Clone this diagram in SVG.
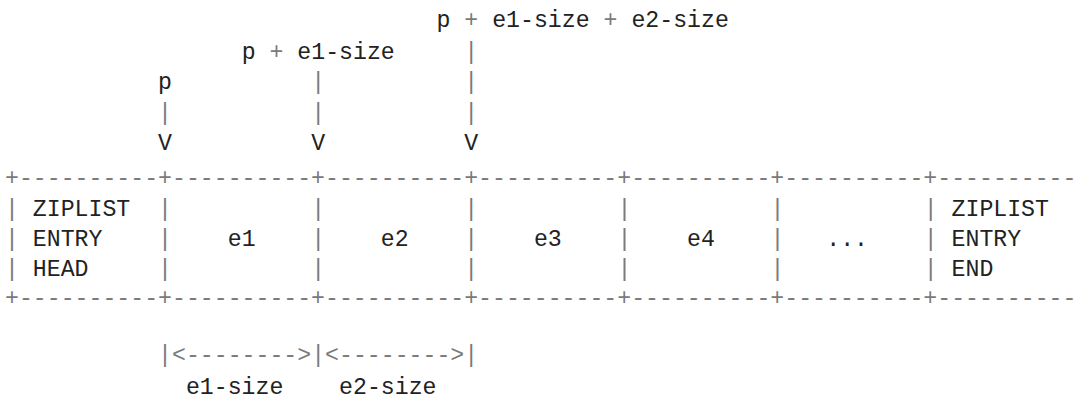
<svg xmlns="http://www.w3.org/2000/svg" width="1085" height="410" viewBox="0 0 1085 410">
<style>
text{font-family:"Liberation Mono","Courier New",monospace;font-size:23.2px;fill:#222;white-space:pre}
.g{fill:#7a7a7a}
</style>
<defs>
<g id="pipes">
<text class="g" x="5">|</text>
<text class="g" x="158.12">|</text>
<text class="g" x="311.24">|</text>
<text class="g" x="464.36">|</text>
<text class="g" x="617.48">|</text>
<text class="g" x="770.6">|</text>
<text class="g" x="923.72">|</text>
</g>
</defs>
<rect width="1085" height="410" fill="#fff"/>
<g id="labels">
<text xml:space="preserve" y="27"><tspan x="436.52">p</tspan><tspan class="g" x="464.36">+</tspan><tspan x="492.2">e1-size</tspan><tspan class="g" x="603.56">+</tspan><tspan x="631.4">e2-size</tspan></text>
<text xml:space="preserve" y="58.6"><tspan x="241.64">p</tspan><tspan class="g" x="269.48">+</tspan><tspan x="297.32">e1-size</tspan></text>
<text y="89.2" x="158.12">p</text>
</g>
<g id="connectors">
<text class="g" y="58.6" x="464.36">|</text>
<text class="g" y="89.2" x="311.24">|</text>
<text class="g" y="89.2" x="464.36">|</text>
<text class="g" y="119.8" x="158.12">|</text>
<text class="g" y="119.8" x="311.24">|</text>
<text class="g" y="119.8" x="464.36">|</text>
<text y="150.4" x="158.12">V</text>
<text y="150.4" x="311.24">V</text>
<text y="150.4" x="464.36">V</text>
<text class="g" xml:space="preserve" y="362" x="158.12">|&lt;--------&gt;|&lt;--------&gt;|</text>
</g>
<g id="frame">
<text class="g" xml:space="preserve" y="185" x="5">+----------+----------+----------+----------+----------+----------+----------</text>
<text class="g" xml:space="preserve" y="305" x="5">+----------+----------+----------+----------+----------+----------+----------</text>
<use href="#pipes" y="216"/>
<use href="#pipes" y="246"/>
<use href="#pipes" y="276"/>
</g>
<g id="zl-head">
<text x="32.84" y="216">ZIPLIST</text>
<text x="32.84" y="246">ENTRY</text>
<text x="32.84" y="276">HEAD</text>
</g>
<g id="e1"><text x="227.72" y="246">e1</text></g>
<g id="e2"><text x="380.84" y="246">e2</text></g>
<g id="e3"><text x="533.96" y="246">e3</text></g>
<g id="e4"><text x="687.08" y="246">e4</text></g>
<g id="more"><text x="826.28" y="246">...</text></g>
<g id="zl-end">
<text x="951.56" y="216">ZIPLIST</text>
<text x="951.56" y="246">ENTRY</text>
<text x="951.56" y="276">END</text>
</g>
<g id="sizes">
<text x="185.96" y="393.5">e1-size</text>
<text x="339.08" y="393.5">e2-size</text>
</g>
</svg>
